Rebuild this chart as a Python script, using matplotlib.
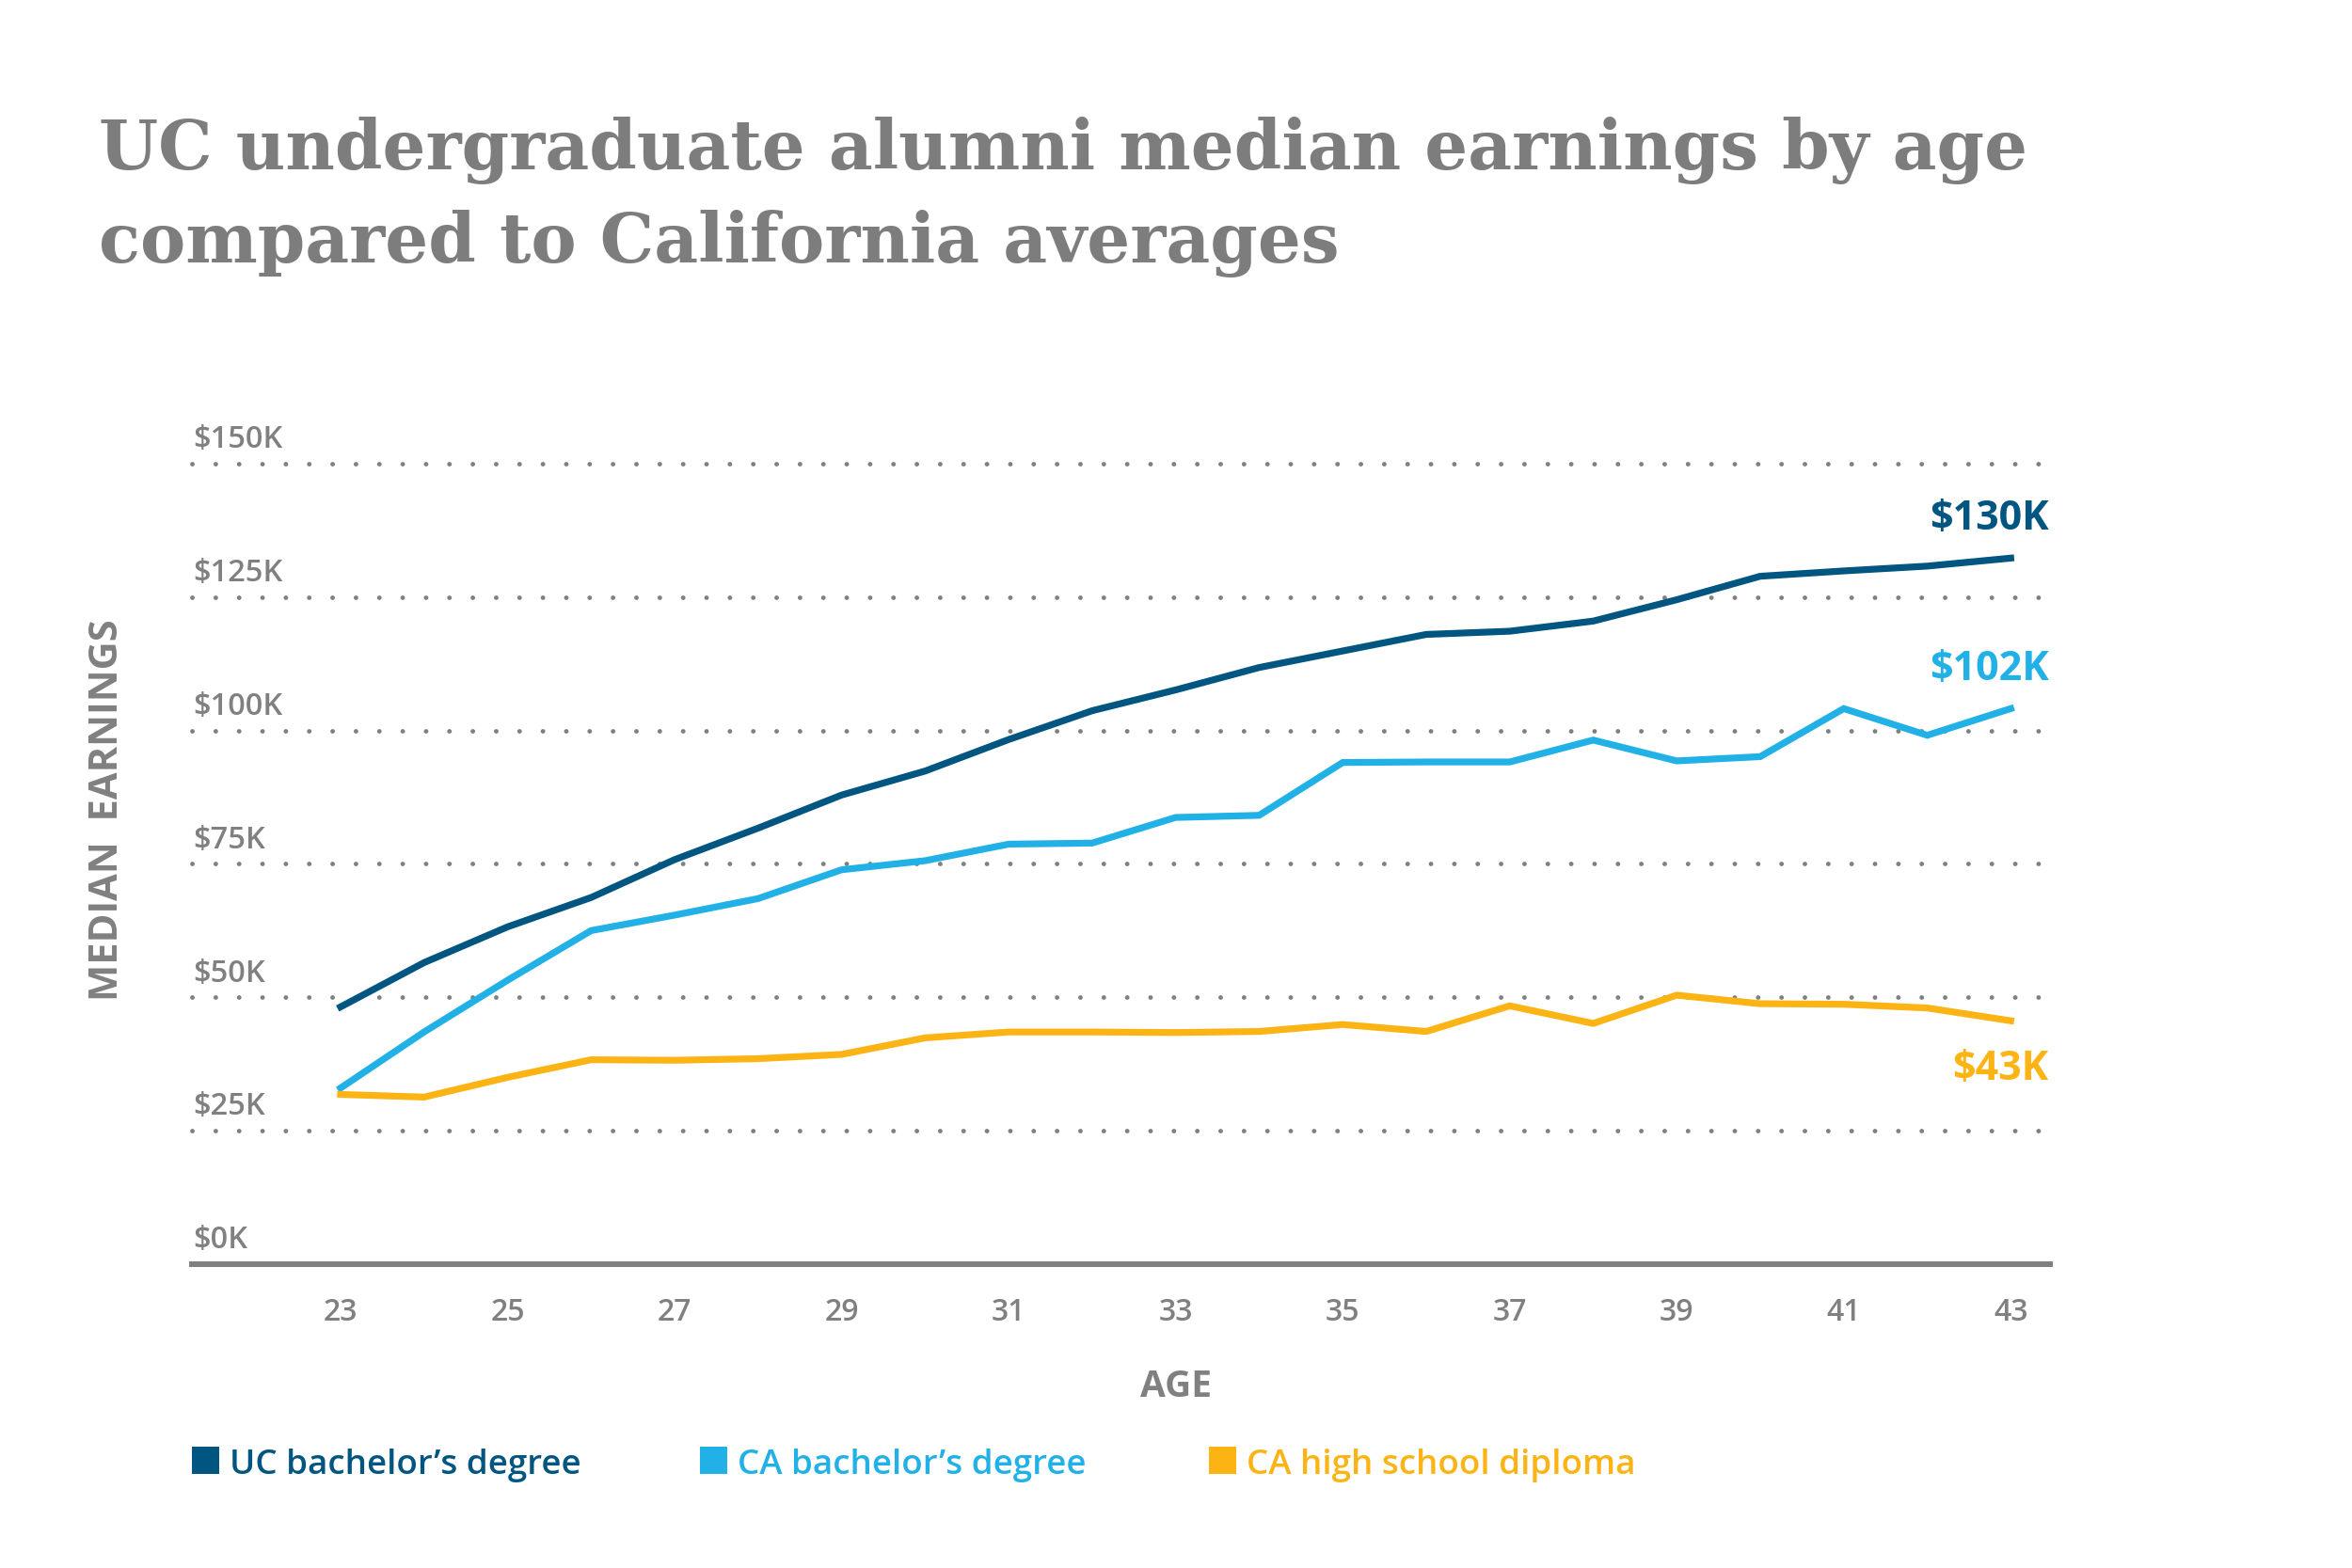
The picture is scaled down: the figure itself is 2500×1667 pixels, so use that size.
import matplotlib
matplotlib.use("Agg")
import matplotlib.pyplot as plt
from matplotlib.patches import Rectangle

# median earnings in $K
ages = list(range(23, 44))
uc_bachelors = [48.2, 56.5, 63.2, 68.7, 75.8, 81.7, 87.9, 92.4, 98.3, 103.7, 107.6,
                111.8, 114.9, 118.0, 118.6, 120.5, 124.5, 128.9, 129.9, 130.8, 132.3]
ca_bachelors = [33.0, 43.5, 53.2, 62.5, 65.4, 68.5, 73.9, 75.6, 78.7, 78.9, 83.7,
                84.1, 94.0, 94.1, 94.1, 98.2, 94.3, 95.1, 104.1, 99.1, 104.1]
ca_high_school = [31.8, 31.3, 35.0, 38.3, 38.2, 38.5, 39.3, 42.4, 43.5, 43.5, 43.4,
                  43.6, 44.9, 43.6, 48.4, 45.1, 50.4, 48.8, 48.7, 48.0, 45.6]

series_names = ["UC bachelor\u2019s degree", "CA bachelor\u2019s degree", "CA high school diploma"]
end_labels = ["$130K", "$102K", "$43K"]
y_ticks = [0, 25, 50, 75, 100, 125, 150]
x_ticks = ages[::2]

colors = ["#005581", "#21b1e6", "#fcb415"]
gray = "#808080"
sans = ["Open Sans", "DejaVu Sans"]

fig = plt.figure(figsize=(25, 16.67), dpi=100)
ax = fig.add_axes([0.0816, 0.1938, 0.79, 0.5105])

for v in y_ticks[1:]:
    ax.axhline(v, color=gray, lw=3.5, linestyle=(0, (0.01, 5.1)),
               dash_capstyle="round", clip_on=False, zorder=1)

for vals, col in zip([uc_bachelors, ca_bachelors, ca_high_school], colors):
    ax.plot(ages, vals, color=col, lw=5.2, solid_joinstyle="miter", zorder=3)

offsets = [(29, 30), (29, 30), (29, -37)]
for vals, col, lab, off in zip([uc_bachelors, ca_bachelors, ca_high_school], colors, end_labels, offsets):
    ax.annotate(lab, xy=(ages[-1], vals[-1]), xytext=off, textcoords="offset points",
                ha="right", va="center", color=col, fontsize=31, fontweight="bold",
                family=sans)

for v in y_ticks:
    ax.annotate(f"${v}K", xy=(0, v), xycoords=("axes fraction", "data"),
                xytext=(1, 12), textcoords="offset points", ha="left", va="baseline",
                color=gray, fontsize=23.5, fontweight="semibold", family=sans)

ax.set_xlim(21.22, 43.47)
ax.set_ylim(0, 150)
ax.set_yticks([])
ax.set_xticks(x_ticks)
ax.set_xticklabels([str(a) for a in x_ticks], family=sans, fontweight="semibold")
ax.tick_params(axis="x", length=0, pad=25, labelsize=23, labelcolor=gray)
for s in ["top", "left", "right"]:
    ax.spines[s].set_visible(False)
ax.spines["bottom"].set_color(gray)
ax.spines["bottom"].set_linewidth(4.3)
ax.patch.set_alpha(0)

ax.annotate("AGE", xy=(33, 0), xycoords=("data", "axes fraction"), xytext=(0, -94),
            textcoords="offset points", ha="center", va="center", color=gray,
            fontsize=28, fontweight="bold", family=sans)
fig.text(0.046, 0.4835, "MEDIAN  EARNINGS", rotation=90,
         ha="center", va="center", color=gray, fontsize=30, fontweight="bold",
         family=sans)

fig.text(0.042, 0.892, "UC undergraduate alumni median earnings by age",
         color="#7d7d7d", fontsize=52, fontweight="bold", family="DejaVu Serif",
         va="baseline")
fig.text(0.042, 0.8326, "compared to California averages",
         color="#7d7d7d", fontsize=52, fontweight="bold", family="DejaVu Serif",
         va="baseline")

leg_x = [0.0816, 0.2976, 0.514]
for x, name, col in zip(leg_x, series_names, colors):
    fig.add_artist(Rectangle((x, 0.06), 0.0116, 0.0174, transform=fig.transFigure,
                             color=col, lw=0))
    fig.text(x + 0.016, 0.06, name, color=col, fontsize=26.5, fontweight="semibold",
             family=sans, va="baseline")

fig.savefig("out.png", dpi=100)
